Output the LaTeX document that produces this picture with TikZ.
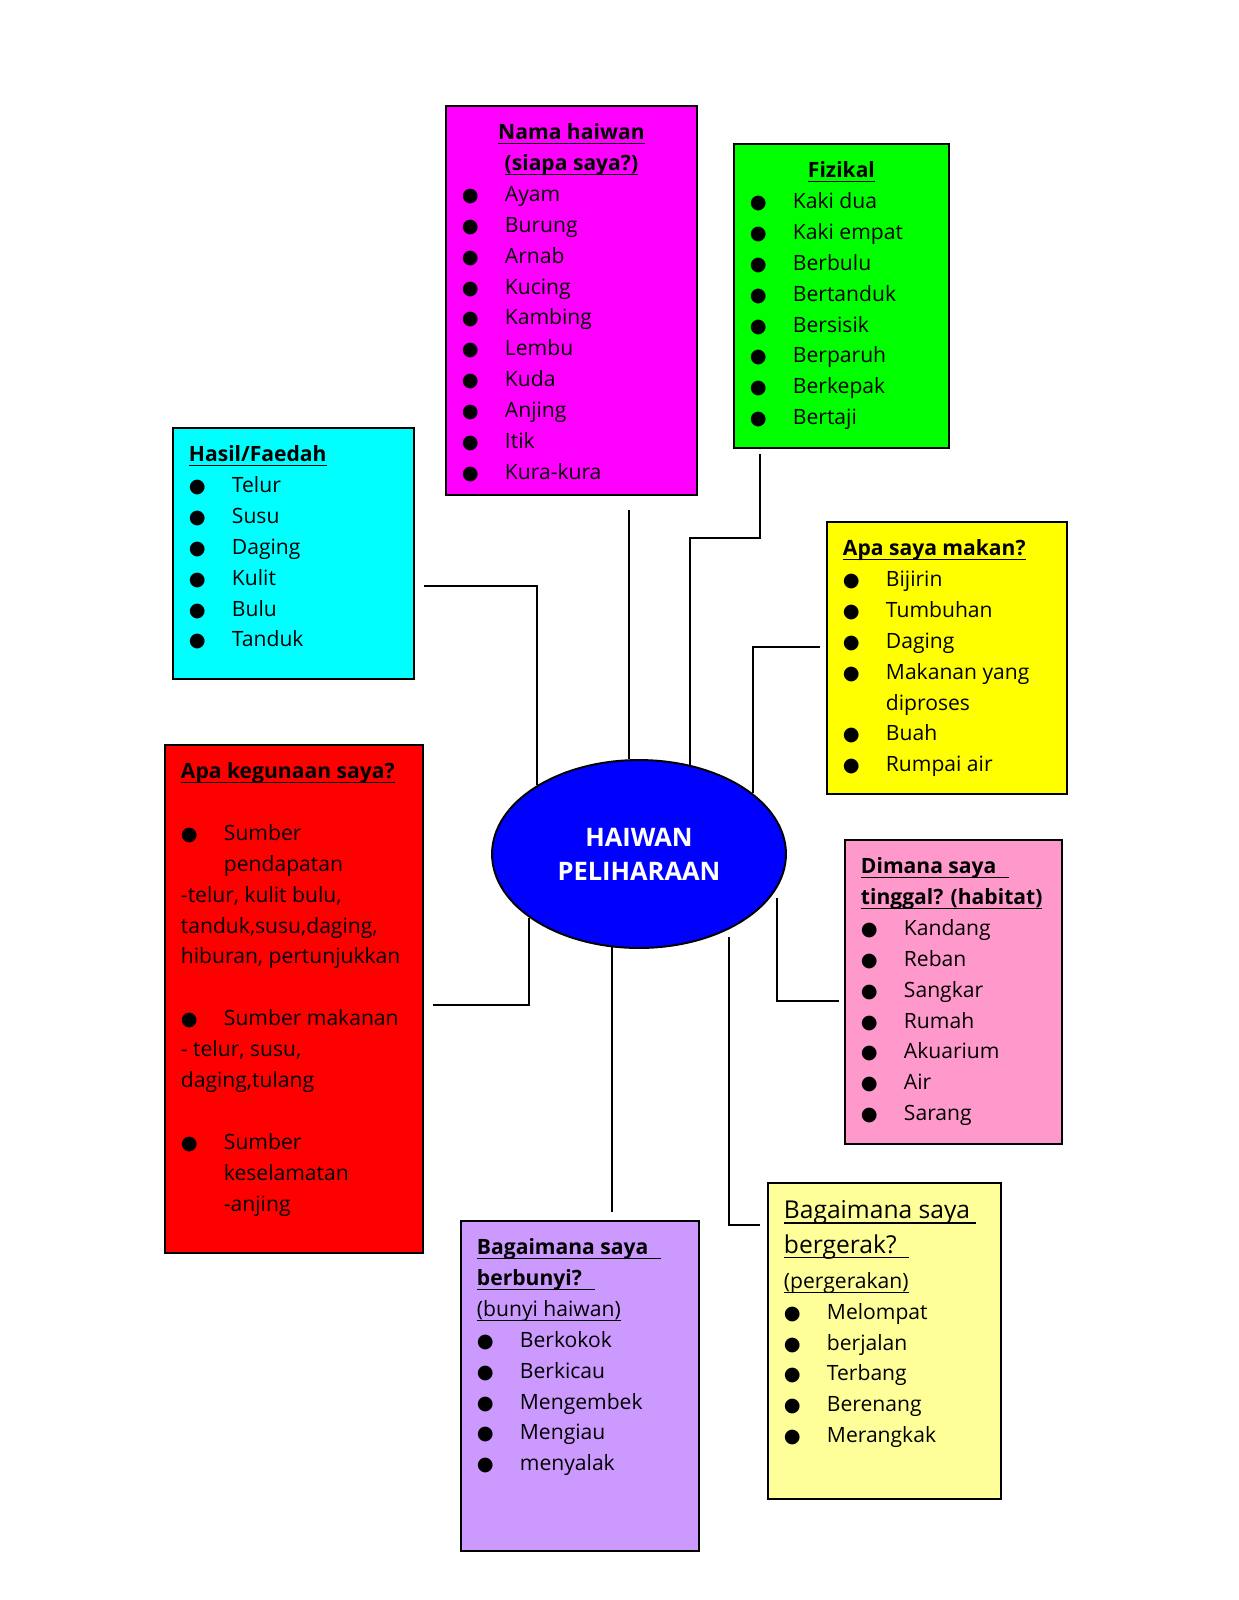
\documentclass[tikz,border=0pt]{standalone}
\usepackage{fontspec}
\setmainfont{Open Sans}
\newfontfamily\dotfont{DejaVu Sans}
\usetikzlibrary{shapes.geometric}

\definecolor{namabox}{HTML}{FF00FF}
\definecolor{fizbox}{HTML}{00FF00}
\definecolor{hasilbox}{HTML}{00FFFF}
\definecolor{makanbox}{HTML}{FFFF00}
\definecolor{gunabox}{HTML}{FF0000}
\definecolor{habitatbox}{HTML}{FF99CC}
\definecolor{bunyibox}{HTML}{CC99FF}
\definecolor{gerakbox}{HTML}{FFFF99}
\definecolor{hubblue}{HTML}{0000FF}

% box body: width, height, lines
\newcommand{\boxbody}[3]{\parbox[c][#2][t]{\dimexpr#1-0.64cm\relax}{\vspace*{6.7pt}#3}}
\newcommand{\uln}[1]{\leavevmode\setbox0\hbox{#1}\rlap{\rule[-2.6pt]{\wd0}{0.7pt}}\box0}
\newcommand{\hd}[1]{\strut\uln{\bfseries #1}\par}
\newcommand{\itm}[1]{\makebox[0.86cm][l]{\dotfont\fontsize{11}{11}\selectfont ●}#1\par}
\newcommand{\ind}[1]{\hspace*{0.86cm}#1\par}
\newcommand{\gap}{\mbox{}\par}

\begin{document}
\begin{tikzpicture}[x=0.02cm, y=-0.02cm,
  panel/.style={draw, line width=1.1pt, anchor=north west, inner xsep=0.32cm,
                inner ysep=0pt, font=\fontsize{12}{17.6}\selectfont},
  hub/.style={ellipse, draw, line width=1.1pt, fill=hubblue, text=white,
              font=\fontsize{14.5}{19.3}\selectfont\bfseries, align=center,
              minimum width=5.88cm, minimum height=3.76cm, inner sep=0pt},
  link/.style={line width=1.1pt}
]
  \fill[white] (0,0) rectangle (1239,1600);
  \useasboundingbox (0,0) rectangle (1239,1600);

  \node[hub] (pusat) at (639,854) {HAIWAN\\PELIHARAAN};

  \node[panel, fill=namabox] (nama) at (445,105) {\boxbody{5.02cm}{7.78cm}{%
    {\centering\hd{Nama haiwan}\hd{(siapa saya?)}}
    \itm{Ayam}\itm{Burung}\itm{Arnab}\itm{Kucing}\itm{Kambing}
    \itm{Lembu}\itm{Kuda}\itm{Anjing}\itm{Itik}\itm{Kura-kura}}};
  \node[panel, fill=fizbox] (fizikal) at (733,143) {\boxbody{4.30cm}{6.08cm}{%
    {\centering\hd{Fizikal}}
    \itm{Kaki dua}\itm{Kaki empat}\itm{Berbulu}\itm{Bertanduk}
    \itm{Bersisik}\itm{Berparuh}\itm{Berkepak}\itm{Bertaji}}};
  \node[panel, fill=hasilbox] (hasil) at (172,427) {\boxbody{4.82cm}{5.02cm}{%
    \hd{Hasil/Faedah}
    \itm{Telur}\itm{Susu}\itm{Daging}\itm{Kulit}\itm{Bulu}\itm{Tanduk}}};
  \node[panel, fill=makanbox] (makan) at (826,521) {\boxbody{4.80cm}{5.44cm}{%
    \hd{Apa saya makan?}
    \itm{Bijirin}\itm{Tumbuhan}\itm{Daging}\itm{Makanan yang}\ind{diproses}
    \itm{Buah}\itm{Rumpai air}}};
  \node[panel, fill=gunabox] (guna) at (164,744) {\boxbody{5.16cm}{10.16cm}{%
    \hd{Apa kegunaan saya?}
    \gap
    \itm{Sumber}\ind{pendapatan}
    -telur, kulit bulu,\par
    tanduk,susu,daging,\par
    \mbox{hiburan, pertunjukkan}\par
    \gap
    \itm{Sumber makanan}
    - telur, susu,\par
    daging,tulang\par
    \gap
    \itm{Sumber}\ind{keselamatan}\ind{-anjing}}};
  \node[panel, fill=habitatbox] (habitat) at (844,839) {\boxbody{4.34cm}{6.08cm}{%
    \hd{Dimana saya\hphantom{ii}}\hd{tinggal? (habitat)}
    \itm{Kandang}\itm{Reban}\itm{Sangkar}\itm{Rumah}
    \itm{Akuarium}\itm{Air}\itm{Sarang}}};
  \node[panel, fill=bunyibox] (bunyi) at (460,1220) {\boxbody{4.76cm}{6.60cm}{%
    \hd{Bagaimana saya\hphantom{ii}}\hd{berbunyi?\hphantom{ii}}
    \uln{(bunyi haiwan)}\par
    \itm{Berkokok}\itm{Berkicau}\itm{Mengembek}\itm{Mengiau}\itm{menyalak}}};
  \node[panel, fill=gerakbox] (gerak) at (767,1182) {\boxbody{4.66cm}{6.32cm}{%
    {\fontsize{14}{19.7}\selectfont\strut\uln{Bagaimana saya\hphantom{i}}\par
     \uln{bergerak?\hphantom{ii}}\par}
    {\fontsize{12}{19.7}\selectfont\uln{(pergerakan)}\par}
    \itm{Melompat}\itm{berjalan}\itm{Terbang}\itm{Berenang}\itm{Merangkak}}};

  % connectors to the centre
  \draw[link] ([shift={(9,32.5)}]hasil.east) -| (pusat.146);
  \draw[link, shorten <=0.28cm] (nama.south -| pusat.96) -- (pusat.96);
  \draw[link] ([shift={(-81.5,5)}]fizikal.south) -- ++(0,84) -| (pusat.60);
  \draw[link] ([shift={(-6,-11)}]makan.west) -| (pusat.28);
  \draw[link] ([shift={(9,6)}]guna.east) -| (pusat.210);
  \draw[link, shorten >=0.16cm] (pusat.254) -- (pusat.254 |- bunyi.north);
  \draw[link, shorten <=0.16cm] (pusat.320) |- ([shift={(-7,-116)}]gerak.west);
  \draw[link, shorten <=0.2cm] (pusat.346) |- ([shift={(-5,9)}]habitat.west);
\end{tikzpicture}
\end{document}
